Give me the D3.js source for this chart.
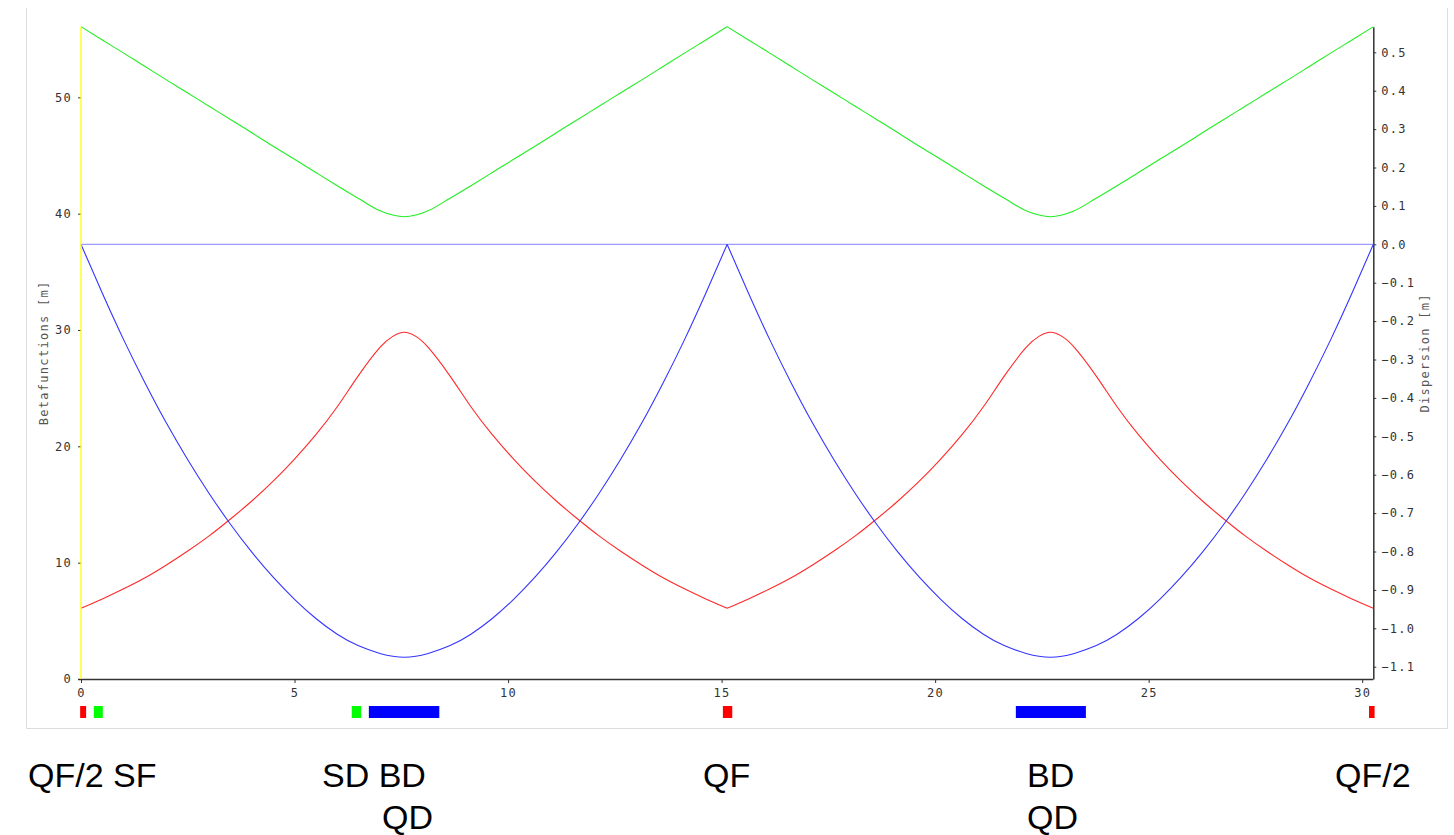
<!DOCTYPE html>
<html>
<head>
<meta charset="utf-8">
<script src="https://cdn.jsdelivr.net/npm/d3@7"></script>
<style>
  body { margin: 0; background: #fff; }
  .axis text { font-family: "DejaVu Sans Mono", monospace; font-size: 12px; letter-spacing: 1.3px; fill: #333; }
  .axis path, .axis line { stroke: #333; }
</style>
</head>
<body>
<div id="chart"></div>
<script>
// positions along the cell s [m] where the curves were read
const sPos = [0, 0.5, 1, 1.5, 2, 2.5, 3, 3.5, 4, 4.5, 5, 5.5, 6, 6.5, 7, 7.3, 7.57, 7.84, 8.13, 8.63, 9.13, 9.63, 10.13, 10.63, 11.13, 11.63, 12.13, 12.63, 13.13, 13.63, 14.13, 14.63, 15.13,
  15.63, 16.13, 16.63, 17.13, 17.63, 18.13, 18.63, 19.13, 19.63, 20.13, 20.63, 21.13, 21.63, 22.13, 22.43, 22.7, 22.97, 23.26, 23.76, 24.26, 24.76, 25.26, 25.76, 26.26, 26.76, 27.26, 27.76, 28.26, 28.76, 29.26, 29.76, 30.26];

// betafunctions [m]
const betaGreen = [56.07, 54.93, 53.8, 52.65, 51.5, 50.37, 49.23, 48.1, 46.95, 45.8, 44.67, 43.53, 42.4, 41.3, 40.25, 39.88, 39.74, 39.88, 40.25, 41.3, 42.4, 43.53, 44.67, 45.8, 46.95, 48.1, 49.23, 50.37, 51.5, 52.65, 53.8, 54.93, 56.07,
  54.93, 53.8, 52.65, 51.5, 50.37, 49.23, 48.1, 46.95, 45.8, 44.67, 43.53, 42.4, 41.3, 40.25, 39.88, 39.74, 39.88, 40.25, 41.3, 42.4, 43.53, 44.67, 45.8, 46.95, 48.1, 49.23, 50.37, 51.5, 52.65, 53.8, 54.93, 56.07];
const betaRed = [6.08, 6.88, 7.75, 8.7, 9.8, 11.0, 12.3, 13.75, 15.3, 17.0, 18.9, 21.0, 23.4, 26.1, 28.5, 29.45, 29.8, 29.45, 28.5, 26.1, 23.4, 21.0, 18.9, 17.0, 15.3, 13.75, 12.3, 11.0, 9.8, 8.7, 7.75, 6.88, 6.08,
  6.88, 7.75, 8.7, 9.8, 11.0, 12.3, 13.75, 15.3, 17.0, 18.9, 21.0, 23.4, 26.1, 28.5, 29.45, 29.8, 29.45, 28.5, 26.1, 23.4, 21.0, 18.9, 17.0, 15.3, 13.75, 12.3, 11.0, 9.8, 8.7, 7.75, 6.88, 6.08];
const betaBlue = [37.36, 33.15, 29.15, 25.45, 22.0, 18.85, 15.95, 13.3, 10.9, 8.75, 6.85, 5.2, 3.85, 2.85, 2.2, 1.95, 1.87, 1.95, 2.2, 2.85, 3.85, 5.2, 6.85, 8.75, 10.9, 13.3, 15.95, 18.85, 22.0, 25.45, 29.15, 33.15, 37.36,
  33.15, 29.15, 25.45, 22.0, 18.85, 15.95, 13.3, 10.9, 8.75, 6.85, 5.2, 3.85, 2.85, 2.2, 1.95, 1.87, 1.95, 2.2, 2.85, 3.85, 5.2, 6.85, 8.75, 10.9, 13.3, 15.95, 18.85, 22.0, 25.45, 29.15, 33.15, 37.36];

// dispersion [m]
const dispS = [0, 30.26];
const dispersion = [0, 0];

// thin quadrupoles where the optics have kinks
const cellBreaks = [0, 15.13, 30.26];
const markerS = [0];

// lattice elements
const elemNames = ["QF/2", "SF", "SD", "BD", "QF", "BD", "QF/2"];
const elemStart = [-0.02, 0.30, 6.34, 6.74, 15.03, 21.89, 30.16];
const elemEnd = [0.12, 0.51, 6.56, 8.39, 15.25, 23.53, 30.29];

const leftTicks = [0, 10, 20, 30, 40, 50];
const rightTicks = [-1.1, -1.0, -0.9, -0.8, -0.7, -0.6, -0.5, -0.4, -0.3, -0.2, -0.1, 0.0, 0.1, 0.2, 0.3, 0.4, 0.5];
const bottomTicks = [0, 5, 10, 15, 20, 25, 30];

const labelRow1 = ["QF/2 SF", "SD BD", "QF", "BD", "QF/2"];
const labelRow2 = ["QD", "QD"];

// layout
const W = 1454, H = 835;
const plot = {left: 81, right: 1373.3, top: 26.7, bottom: 679};

const svg = d3.select("#chart").append("svg")
  .attr("width", W).attr("height", H);

// panel frame (left, bottom, right)
svg.append("path")
  .attr("d", "M26.5,8 V728.5 H1447.5 V8")
  .attr("fill", "none")
  .attr("stroke", "#dcdcdc");

const x = d3.scaleLinear().domain([0, 30.26]).range([plot.left, plot.right]);
const yL = d3.scaleLinear().domain([0, 56.07]).range([plot.bottom, plot.top]);
const yR = d3.scaleLinear().domain([-1.132, 0.5667]).range([plot.bottom, plot.top]);

// axes
svg.append("g").attr("class", "axis")
  .attr("transform", `translate(${plot.left},0)`)
  .call(d3.axisLeft(yL).tickValues(leftTicks).tickSize(3).tickPadding(6).tickSizeOuter(0))
  .call(g => g.select(".domain").remove());

svg.append("g").attr("class", "axis")
  .attr("transform", `translate(0,${plot.bottom})`)
  .call(d3.axisBottom(x).tickValues(bottomTicks).tickSize(4).tickPadding(5).tickSizeOuter(0))
  .call(g => g.select(".domain").attr("d", `M${plot.left - 3},0.5H${plot.right}`).attr("stroke-width", 1.5));

svg.append("g").attr("class", "axis")
  .attr("transform", `translate(${plot.right},0)`)
  .call(d3.axisRight(yR).tickValues(rightTicks).tickFormat(d3.format(".1f")).tickSize(3).tickPadding(5).tickSizeOuter(0))
  .call(g => g.select(".domain").attr("stroke-width", 1.5));

// axis titles
svg.append("text")
  .attr("transform", `translate(48,${(plot.top + plot.bottom) / 2}) rotate(-90)`)
  .attr("text-anchor", "middle")
  .style("font-family", "DejaVu Sans Mono, monospace")
  .style("font-size", "12px")
  .style("letter-spacing", "1.3px")
  .style("fill", "#555")
  .text("Betafunctions [m]");

svg.append("text")
  .attr("transform", `translate(1429,${(plot.top + plot.bottom) / 2}) rotate(-90)`)
  .attr("text-anchor", "middle")
  .style("font-family", "DejaVu Sans Mono, monospace")
  .style("font-size", "12px")
  .style("letter-spacing", "1.3px")
  .style("fill", "#555")
  .text("Dispersion [m]");

// curves, split at the thin quads so the kinks stay sharp
const pts = vals => sPos.map((s, i) => ({s: s, v: vals[i]}));

function drawSeries(vals, color, curve) {
  const all = pts(vals);
  const line = d3.line().x(d => x(d.s)).y(d => yL(d.v)).curve(curve);
  for (let k = 0; k < cellBreaks.length - 1; k++) {
    const seg = all.filter(d => d.s >= cellBreaks[k] - 1e-6 && d.s <= cellBreaks[k + 1] + 1e-6);
    svg.append("path")
      .datum(seg)
      .attr("fill", "none")
      .attr("stroke", color)
      .attr("stroke-width", 1.1)
      .attr("d", line);
  }
}

// dispersion line
svg.append("path")
  .datum(dispS.map((s, i) => ({s: s, v: dispersion[i]})))
  .attr("fill", "none")
  .attr("stroke", "#9a9aff")
  .attr("stroke-width", 1.3)
  .attr("d", d3.line().x(d => x(d.s)).y(d => yR(d.v)));

drawSeries(betaGreen, "#22ee22", d3.curveMonotoneX);
drawSeries(betaRed, "#ff2a2a", d3.curveNatural);
drawSeries(betaBlue, "#3535ff", d3.curveNatural);

// yellow marker at start of cell
svg.selectAll(".marker")
  .data(markerS)
  .join("line")
  .attr("class", "marker")
  .attr("x1", d => x(d)).attr("x2", d => x(d))
  .attr("y1", plot.top).attr("y2", plot.bottom)
  .attr("stroke", "#ffff00")
  .attr("stroke-width", 1.3);

// lattice elements
const elemColor = name => name.startsWith("Q") ? "#ff0000" : name.startsWith("S") ? "#00ff00" : "#0000ff";
svg.selectAll(".elem")
  .data(elemNames.map((n, i) => ({name: n, s0: elemStart[i], s1: elemEnd[i]})))
  .join("rect")
  .attr("class", "elem")
  .attr("x", d => x(d.s0))
  .attr("y", 706)
  .attr("width", d => x(d.s1) - x(d.s0))
  .attr("height", 12)
  .attr("fill", d => elemColor(d.name));

// element names under the plot
const row1X = [28, 322, 703, 1027, 1335];
const row2X = [382, 1027];
svg.selectAll(".lab1")
  .data(labelRow1)
  .join("text")
  .attr("class", "lab1")
  .attr("x", (d, i) => row1X[i])
  .attr("y", 787)
  .style("font-family", "Liberation Sans, Arial, sans-serif")
  .style("font-size", "34px")
  .style("fill", "#000")
  .text(d => d);

svg.selectAll(".lab2")
  .data(labelRow2)
  .join("text")
  .attr("class", "lab2")
  .attr("x", (d, i) => row2X[i])
  .attr("y", 829)
  .style("font-family", "Liberation Sans, Arial, sans-serif")
  .style("font-size", "34px")
  .style("fill", "#000")
  .text(d => d);
</script>
</body>
</html>
